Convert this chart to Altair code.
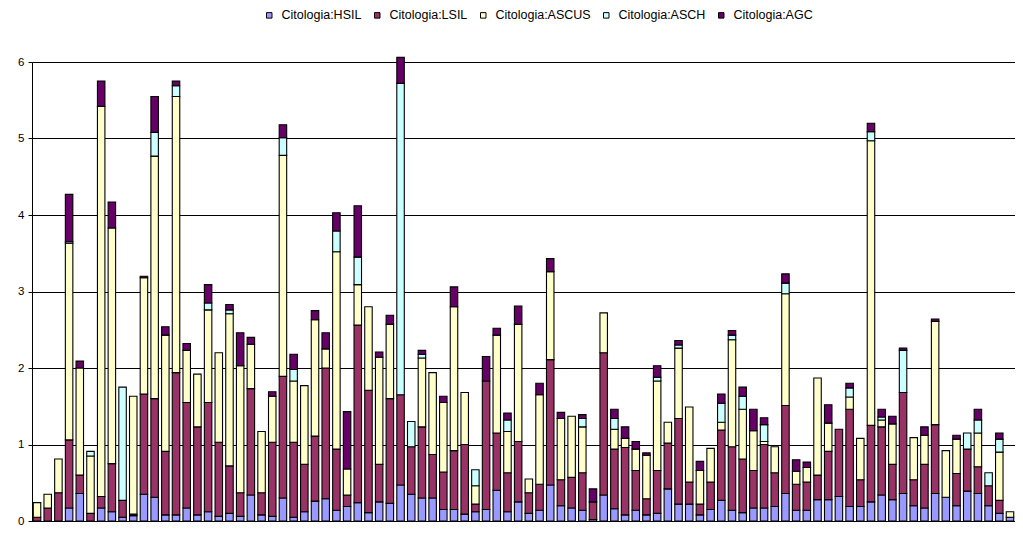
import altair as alt
import pandas as pd

series = ["Citologia:HSIL", "Citologia:LSIL", "Citologia:ASCUS", "Citologia:ASCH", "Citologia:AGC"]
colors = ["#9999FF", "#993366", "#FFFFCC", "#CCFFFF", "#660066"]

hsil = [0, 0, 0, .17, .36, 0, .17, .12, .05, .07,
        .35, .31, .08, .08, .17, .08, .12, .06, .10, .06,
        .34, .08, .06, .30, .05, .12, .26, .29, .14, .19,
        .24, .11, .25, .23, .47, .35, .30, .30, .15, .15,
        .09, .12, .15, .40, .12, .25, .10, .14, .47, .20,
        .17, .14, .02, .34, .16, .08, .14, .08, .10, .42,
        .22, .22, .08, .15, .27, .14, .11, .17, .17, .19,
        .36, .14, .14, .28, .28, .32, .19, .19, .25, .34,
        .28, .36, .20, .17, .36, .31, .20, .39, .36, .20,
        .10, .05]
lsil = [.05, .17, .37, .89, .24, .10, .15, .63, .22, .02,
        1.31, 1.29, .83, 1.86, 1.38, 1.15, 1.43, .97, .62, .31,
        1.39, .29, .97, 1.59, .98, .62, .85, 1.71, .80, .15,
        2.32, 1.60, .49, 1.37, 1.18, .62, .93, .57, .49, .77,
        .91, .10, 1.68, .75, .51, .79, .27, .34, 1.64, .34,
        .40, .49, .23, 1.86, .78, .88, .52, .21, .56, .60,
        1.12, .29, .14, .36, .92, .83, .70, .49, .83, .44,
        1.15, .34, .37, .32, .63, .88, 1.27, .35, 1.00, .89,
        .46, 1.32, .34, .57, .90, 0, .42, .55, .35, .26,
        .17, 0]
ascus = [.19, .18, .44, 2.57, 1.40, .75, 5.10, 3.08, 0, 1.54,
         1.52, 3.17, 1.52, 3.61, .68, .69, 1.21, 1.17, 1.99, 1.66,
         .58, .80, .60, 2.89, .80, 1.03, 1.52, .25, 2.58, .34,
         .53, 1.09, 1.40, .97, 0, 0, .90, 1.07, .91, 1.88,
         .68, .24, 0, 1.28, .54, 1.53, .18, 1.17, 1.15, .80,
         .80, .60, 0, .52, .26, .12, .28, .57, 1.17, .27,
         .92, .98, .44, .44, .10, 1.40, .65, .52, .04, .34,
         1.46, .17, .19, 1.27, .37, 0, .16, .54, 3.72, .09,
         .53, 0, .55, .38, 1.35, .61, .45, 0, .44, 0,
         .63, .07]
asch = [0, 0, 0, .02, 0, .06, 0, 0, 1.48, 0,
        0, .31, 0, .14, 0, 0, .09, 0, .05, 0,
        0, 0, 0, .23, .15, 0, 0, 0, .27, 0,
        .36, 0, 0, 0, 4.07, .33, .05, 0, 0, 0,
        0, .21, 0, 0, .15, 0, 0, 0, 0, 0,
        0, .11, 0, 0, .14, 0, 0, 0, .05, 0,
        .04, 0, 0, 0, .25, .06, .17, 0, .22, 0,
        .14, 0, 0, 0, 0, 0, .12, 0, .12, .04,
        0, .55, 0, 0, 0, 0, 0, .21, .17, .17,
        .17, 0]
agc = [0, 0, 0, .62, .09, 0, .33, .34, 0, 0,
       .02, .47, .11, .06, .09, 0, .24, 0, .07, .43,
       .09, 0, .06, .17, .20, 0, .12, .21, .24, .75,
       .67, 0, .07, .12, .34, 0, .05, 0, .08, .26,
       0, 0, .32, .09, .09, .24, 0, .15, .17, .08,
       0, .05, .17, 0, .12, .15, .10, .03, .15, 0,
       .06, 0, .12, 0, .12, .06, .12, .28, .09, 0,
       .12, .15, .07, 0, .24, 0, .06, 0, .11, .10,
       .10, .03, 0, .11, .03, 0, .05, 0, .14, 0,
       .08, 0]

rows = []
for i in range(len(hsil)):
    for k, vals in enumerate([hsil, lsil, ascus, asch, agc]):
        if vals[i] > 0:
            rows.append({"cat": i + 1, "series": series[k], "value": vals[i], "ord": k})
df = pd.DataFrame(rows)

FONT = "Liberation Sans"

chart = alt.Chart(df).mark_bar(stroke="black", strokeWidth=1.1).encode(
    x=alt.X("cat:O",
            axis=alt.Axis(labels=False, ticks=False, title=None, grid=False,
                          domainColor="black", domainWidth=1),
            scale=alt.Scale(paddingInner=0.3, paddingOuter=0.12)),
    y=alt.Y("value:Q", stack="zero",
            scale=alt.Scale(domain=[0, 6], nice=False),
            axis=alt.Axis(values=[0, 1, 2, 3, 4, 5, 6], title=None, format="d",
                          labelFont=FONT, labelFontSize=11.5, labelColor="black",
                          tickColor="black", tickSize=4, labelPadding=4,
                          domainColor="black", gridColor="black", gridWidth=1)),
    color=alt.Color("series:N",
                    scale=alt.Scale(domain=series, range=colors),
                    legend=alt.Legend(title=None, orient="none", direction="horizontal",
                                      legendX=231, legendY=-53,
                                      symbolType="square", symbolSize=30,
                                      symbolStrokeColor="black", symbolStrokeWidth=1,
                                      labelFont=FONT, labelFontSize=12.5,
                                      labelColor="black", labelOffset=6,
                                      columnPadding=9)),
    order=alt.Order("ord:Q", sort="ascending"),
).properties(
    width=983, height=459,
    padding={"left": 24, "top": 54, "right": 0, "bottom": 5},
    autosize="none",
).configure_view(stroke=None).configure(background="white")

chart.save("out.html", embed_options={"renderer": "svg", "actions": False})
